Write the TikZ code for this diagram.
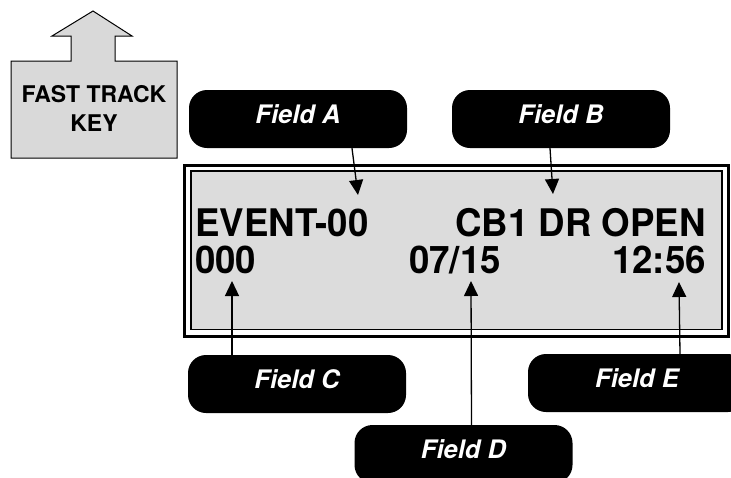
\documentclass[tikz,border=0pt]{standalone}
\usepackage{fontspec}
\setmainfont{TeX Gyre Heros}
\newfontfamily\lcdfont[FakeStretch=0.965]{TeX Gyre Heros}
\usetikzlibrary{arrows.meta}
\definecolor{lcdgray}{HTML}{DCDCDC}
\definecolor{keygray}{HTML}{D9D9D9}

\begin{document}
\begin{tikzpicture}[x=1pt,y=-1pt,
  every node/.style={inner sep=0pt},
  fld/.style={rounded corners=18pt,fill=black,text=white,minimum width=218pt,minimum height=58pt,text depth=10pt,font=\fontsize{25.5}{28}\selectfont\bfseries\itshape},
  lcd/.style={font=\lcdfont\fontsize{38}{40}\selectfont\bfseries},
  pt/.style={-{Triangle[length=15pt,width=14pt]},line width=1.3pt}]
\useasboundingbox (0,0) rectangle (731,477);

% fast track key
\draw[fill=keygray,line width=1pt] (93,11) -- (52,36) -- (71,36) -- (71,61) -- (11,61) -- (11,158)
  -- (177,158) -- (177,61) -- (115,61) -- (115,36) -- (132,36) -- cycle;
\node[align=center,font=\fontsize{23}{29}\selectfont\bfseries] (key) at (94,108) {FAST TRACK\\KEY};

% display window
\draw[fill=white,line width=3pt] (184.5,165.5) rectangle (728.5,336.5);
\draw[fill=lcdgray,line width=1.5pt] (191,171) rectangle (722,329.5);

\node[lcd,anchor=base west] (ev) at (195,236) {EVENT-00};
\node[lcd,anchor=base east] (cb) at (706,236) {CB1 DR OPEN};
\node[lcd,anchor=base west] (cnt) at (195,273) {000};
\node[lcd,anchor=base west] (dt) at (409,273) {07/15};
\node[lcd,anchor=base east] (tm) at (706,273) {12:56};

% field labels
\node[fld] (fa) at (298,119) {Field A};
\node[fld] (fb) at (561,119) {Field B};
\node[fld] (fc) at (297,384) {Field C};
\node[fld] (fd) at (463.5,454) {Field D};
\node[fld] (fe) at (637,383) {Field E};

\coordinate (ta) at (358,195);
\coordinate (tb) at (553,194);
\coordinate (tc) at (232,281);
\coordinate (td) at (471,281);
\coordinate (te) at (679,282);

\draw[pt] ([xshift=54pt]fa.south) -- (ta);
\draw[pt] ([xshift=-11pt]fb.south) -- (tb);
\draw[pt] ([xshift=-65pt]fc.north) -- (tc);
\draw[pt] ([xshift=8pt]fd.north) -- (td);
\draw[pt] ([xshift=43pt]fe.north) -- (te);
\end{tikzpicture}
\end{document}
